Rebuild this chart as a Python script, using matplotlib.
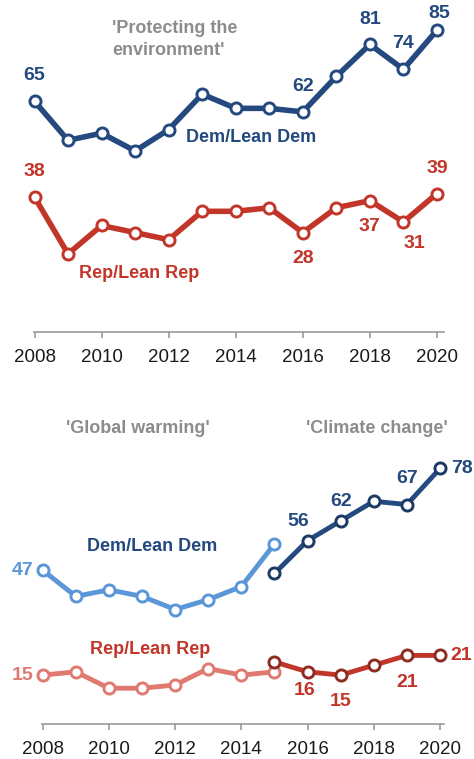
import matplotlib.pyplot as plt

# Share of partisans who say each issue should be a top priority
years = list(range(2008, 2021))
env_dem = [65, 54, 56, 51, 57, 67, 63, 63, 62, 72, 81, 74, 85]
env_rep = [38, 22, 30, 28, 26, 34, 34, 35, 28, 35, 37, 31, 39]

gw_years = list(range(2008, 2016))
gw_dem = [47, 39, 41, 39, 35, 38, 42, 55]
gw_rep = [15, 16, 11, 11, 12, 17, 15, 16]

cc_years = list(range(2015, 2021))
cc_dem = [46, 56, 62, 68, 67, 78]
cc_rep = [19, 16, 15, 18, 21, 21]

tick_years = [2008, 2010, 2012, 2014, 2016, 2018, 2020]

DEM = '#24497f'
DEM_EDGE = '#1c3a66'
REP = '#c2362a'
REP_EDGE = '#8e2c22'
DEM_LIGHT = '#5b97d8'
REP_LIGHT = '#e07a70'
GRAY = '#8c8c8c'

plt.rcParams['font.family'] = ['Liberation Sans', 'DejaVu Sans']

W, H = 474, 759
fig = plt.figure(figsize=(W / 100, H / 100), dpi=100)


def px_axes(left, bottom, width, height):
    # axes placed in pixel units measured from the top-left corner
    return fig.add_axes([left / W, (H - bottom) / H, width / W, height / H])


def style(ax):
    for s in ['top', 'right', 'left']:
        ax.spines[s].set_visible(False)
    ax.spines['bottom'].set_color('#9a9a9a')
    ax.spines['bottom'].set_linewidth(1.2)
    ax.set_yticks([])
    ax.set_xticks(tick_years)
    ax.set_xticklabels([str(y) for y in tick_years], fontsize=13.5, color='#1a1a1a')
    ax.tick_params(axis='x', length=4, width=1.2, color='#9a9a9a', pad=8)
    ax.patch.set_alpha(0)


def series(ax, x, y, color, edge, lw, ms):
    ax.plot(x, y, color=color, lw=lw, marker='o', ms=ms, mfc='white',
            mec=edge, mew=2.1, clip_on=False, solid_joinstyle='round', zorder=3)


def label(ax, x, y, i, dx, dy, color, ha='center'):
    ax.annotate(str(y[i]), (x[i], y[i]), xytext=(dx, dy), textcoords='offset pixels',
                ha=ha, va='center', fontsize=14, fontweight='bold', color=color,
                annotation_clip=False)


# Top panel: 'Protecting the environment'
ax1 = px_axes(33.5, 332, 410.5, 332)
style(ax1)
ax1.set_xlim(2007.97, 2020.21)
ax1.set_ylim(0, 332 / 3.55)
series(ax1, years, env_dem, DEM, DEM, 4.0, 8)
series(ax1, years, env_rep, REP, REP, 4.0, 8)

for i, dx, dy in [(0, 0, 26), (8, 0, 25), (10, 0, 25), (11, 0, 26), (12, 2, 17)]:
    label(ax1, years, env_dem, i, dx, dy, DEM)
for i, dx, dy in [(0, 0, 26), (8, 0, -26), (10, 0, -26), (11, 11, -22), (12, 0, 25)]:
    label(ax1, years, env_rep, i, dx, dy, REP)

ax1.text(2010.31, 82.4, "'Protecting the\nenvironment'", ha='left', va='center',
         fontsize=13, fontweight='bold', color=GRAY, linespacing=1.45)
ax1.text(2014.45, 54.9, 'Dem/Lean Dem', ha='center', va='center',
         fontsize=13, fontweight='bold', color=DEM)
ax1.text(2011.12, 16.6, 'Rep/Lean Rep', ha='center', va='center',
         fontsize=13, fontweight='bold', color=REP)

# Bottom panel: 'Global warming' then 'Climate change'
ax2 = px_axes(41.7, 724.3, 402.3, 324.3)
style(ax2)
ax2.set_xlim(2007.97, 2020.12)
ax2.set_ylim(0, 324.3 / 3.28)
series(ax2, gw_years, gw_dem, DEM_LIGHT, DEM_LIGHT, 3.5, 8)
series(ax2, gw_years, gw_rep, REP_LIGHT, REP_LIGHT, 3.5, 8)
series(ax2, cc_years, cc_dem, DEM, DEM_EDGE, 3.5, 8)
series(ax2, cc_years, cc_rep, REP, REP_EDGE, 3.5, 8)

label(ax2, gw_years, gw_dem, 0, -9, 0, DEM_LIGHT, ha='right')
label(ax2, gw_years, gw_rep, 0, -9, 0, REP_LIGHT, ha='right')
for i, dx, dy in [(1, -9, 19), (2, 0, 19), (4, 0, 26)]:
    label(ax2, cc_years, cc_dem, i, dx, dy, DEM)
label(ax2, cc_years, cc_dem, 5, 11, 0, DEM, ha='left')
for i, dx, dy in [(1, -3, -19), (2, 0, -26), (4, 0, -27)]:
    label(ax2, cc_years, cc_rep, i, dx, dy, REP)
label(ax2, cc_years, cc_rep, 5, 10, 0, REP, ha='left')

ax2.text(2010.88, 90.3, "'Global warming'", ha='center', va='center',
         fontsize=13, fontweight='bold', color=GRAY)
ax2.text(2018.09, 90.3, "'Climate change'", ha='center', va='center',
         fontsize=13, fontweight='bold', color=GRAY)
ax2.text(2011.3, 54.1, 'Dem/Lean Dem', ha='center', va='center',
         fontsize=13, fontweight='bold', color=DEM)
ax2.text(2011.24, 22.9, 'Rep/Lean Rep', ha='center', va='center',
         fontsize=13, fontweight='bold', color=REP)

fig.savefig('out.png', dpi=100)
